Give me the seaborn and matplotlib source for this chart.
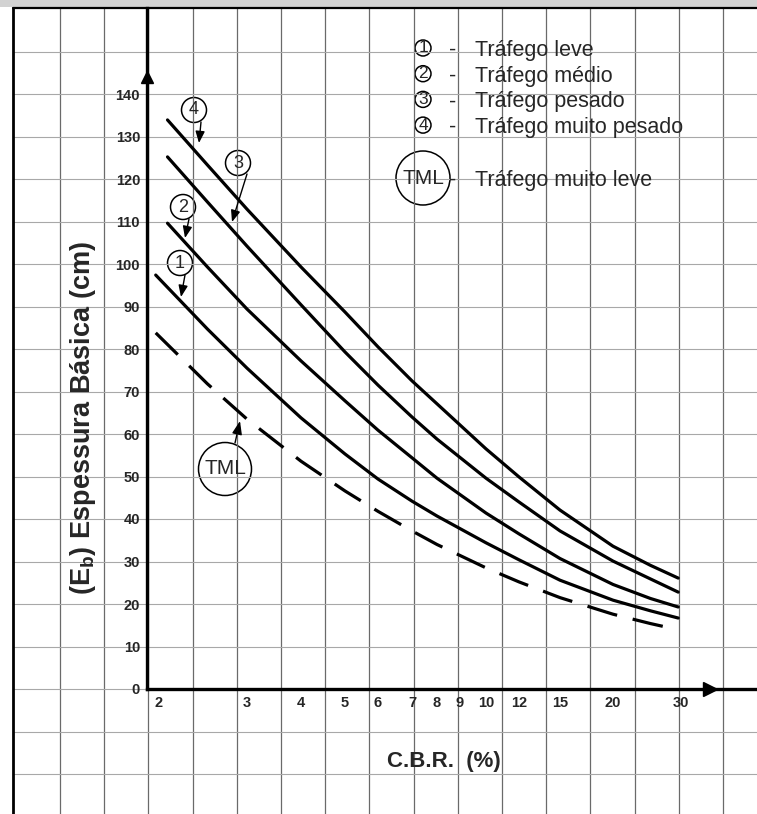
import numpy as np
import pandas as pd
import matplotlib
matplotlib.use("Agg")
import matplotlib.pyplot as plt
import seaborn as sns
from matplotlib import font_manager
from matplotlib.patches import Circle, Rectangle

cbr_leve = [1.97, 2.5, 3, 4, 5, 6, 7, 8, 10, 12, 15, 20, 25, 29.5]
eb_leve = [97.4, 84.7, 75.5, 63.8, 55.3, 49.4, 44.2, 40.7, 34.4, 30.4, 25.6, 20.9, 18.4, 16.7]

cbr_medio = [2.08, 2.5, 3, 4, 5, 6, 7, 8, 10, 12, 15, 20, 25, 29.5]
eb_medio = [109.6, 99.3, 89.4, 77.2, 67.8, 60.9, 54.4, 49.6, 41.4, 36.5, 30.7, 24.6, 21.3, 19.3]

cbr_pesado = [2.08, 2.5, 3, 4, 5, 6, 7, 8, 10, 12, 15, 20, 25, 29.5]
eb_pesado = [125.2, 114.6, 104.2, 90.4, 79.3, 71.5, 64.0, 58.8, 49.6, 44.0, 37.2, 30.1, 25.9, 22.8]

cbr_muito_pesado = [2.08, 2.5, 3, 4, 5, 6, 7, 8, 10, 12, 15, 20, 25, 29.5]
eb_muito_pesado = [133.9, 123.3, 112.9, 99.3, 88.7, 80.5, 72.5, 67.1, 56.5, 49.9, 42.1, 33.6, 29.1, 26.1]

cbr_tml = [1.97, 2.5, 3, 4, 5, 6, 7, 8, 10, 12, 15, 20, 25, 28]
eb_tml = [83.8, 71.8, 63.5, 53.6, 46.6, 41.8, 37.2, 34.0, 28.5, 25.2, 21.5, 17.6, 15.4, 14.4]

cbr_ticks = [2, 3, 4, 5, 6, 7, 8, 9, 10, 12, 15, 20, 30]
eb_ticks = list(range(0, 141, 10))

legenda = [
    ("1", "Tráfego leve"),
    ("2", "Tráfego médio"),
    ("3", "Tráfego pesado"),
    ("4", "Tráfego muito pesado"),
]

# o eixo do ábaco original não é log puro: posição (px) de cada marca no papel
escala_px = [159, 247, 301, 345, 378, 412, 437, 460, 486, 519, 560, 613, 681]

W, H = 757, 814
X0, Y0, YTOP = 147, 689, 8      # cantos do quadro dos eixos (px)
PX_POR_10 = 42.5

_lu = np.log10(cbr_ticks)
_px = np.asarray(escala_px, float)
_s0 = (_px[1] - _px[0]) / (_lu[1] - _lu[0])
_s1 = (_px[-1] - _px[-2]) / (_lu[-1] - _lu[-2])


def escala_fwd(x):
    u = np.log10(np.maximum(np.asarray(x, float), 1e-3))
    out = np.interp(u, _lu, _px)
    out = np.where(u < _lu[0], _px[0] + (u - _lu[0]) * _s0, out)
    out = np.where(u > _lu[-1], _px[-1] + (u - _lu[-1]) * _s1, out)
    return out


def escala_inv(p):
    p = np.asarray(p, float)
    u = np.interp(p, _px, _lu)
    u = np.where(p < _px[0], _lu[0] + (p - _px[0]) / _s0, u)
    u = np.where(p > _px[-1], _lu[-1] + (p - _px[-1]) / _s1, u)
    return 10 ** u


sns.set_style("white")
nomes = {f.name for f in font_manager.fontManager.ttflist}
fonte = "Liberation Sans" if "Liberation Sans" in nomes else "DejaVu Sans"
plt.rcParams["font.family"] = [fonte, "DejaVu Sans"]
plt.rcParams["mathtext.fontset"] = "custom"
plt.rcParams["mathtext.rm"] = fonte
plt.rcParams["mathtext.bf"] = fonte + ":bold"

fig = plt.figure(figsize=(W / 100, H / 100), dpi=100)

# papel quadriculado (coordenadas em px)
bg = fig.add_axes([0, 0, 1, 1], zorder=0)
bg.set_xlim(0, W)
bg.set_ylim(H, 0)
bg.axis("off")
bg.add_patch(Rectangle((0, 0), W, 7, color="#d2d2d2", lw=0))
for gx in 60 + 44.2 * np.arange(0, 16):
    bg.plot([gx, gx], [8, H], color="#6a6a6a", lw=0.9)
for k in range(-2, 16):
    gy = Y0 - PX_POR_10 * k
    bg.plot([13, W], [gy, gy], color="#a8a8a8", lw=0.8)
bg.plot([13, 13], [8, H], color="black", lw=2.0)
bg.plot([13, W], [8, 8], color="black", lw=1.6)

# curvas
ax = fig.add_axes([X0 / W, (H - Y0) / H, (W - X0) / W, (Y0 - YTOP) / H], zorder=1)
ax.patch.set_alpha(0)

series = {
    "1": (cbr_leve, eb_leve),
    "2": (cbr_medio, eb_medio),
    "3": (cbr_pesado, eb_pesado),
    "4": (cbr_muito_pesado, eb_muito_pesado),
    "TML": (cbr_tml, eb_tml),
}
df = pd.concat(
    [pd.DataFrame({"cbr": x, "eb": y, "curva": k}) for k, (x, y) in series.items()],
    ignore_index=True,
)

sns.lineplot(
    data=df, x="cbr", y="eb", hue="curva", style="curva",
    palette={k: "black" for k in series},
    dashes={"1": "", "2": "", "3": "", "4": "", "TML": (9.7, 5.0)},
    lw=2.3, estimator=None, legend=False, ax=ax,
)

ax.set_xscale("function", functions=(escala_fwd, escala_inv))
ax.set_xlim(float(escala_inv(X0)), float(escala_inv(W)))
ax.set_ylim(0, (Y0 - YTOP) / PX_POR_10 * 10)

ax.set_xticks(cbr_ticks)
ax.set_xticklabels([str(v) for v in cbr_ticks])
ax.set_yticks(eb_ticks)
ax.set_yticklabels([str(v) for v in eb_ticks])
ax.minorticks_off()
ax.tick_params(axis="x", direction="out", length=4.5, width=1.4, pad=0.5,
               labelsize=10.5, color="black")
ax.tick_params(axis="y", length=0, pad=5, labelsize=10.5)
for lab in ax.get_xticklabels() + ax.get_yticklabels():
    lab.set_fontweight("bold")

sns.despine(ax=ax, top=True, right=True)
for s in ("left", "bottom"):
    ax.spines[s].set_linewidth(2.4)
    ax.spines[s].set_color("black")
ax.grid(False)

# setas dos eixos
ax.plot(0.923, 0, transform=ax.transAxes, marker=">", ms=10, color="black", clip_on=False)
ax.plot(0, 0.8987, transform=ax.transAxes, marker="^", ms=9, color="black", clip_on=False)

ax.set_xlabel("C.B.R.  (%)", fontsize=16, fontweight="bold", va="center")
ax.xaxis.set_label_coords((444 - X0) / (W - X0), -(761 - Y0) / (Y0 - YTOP))
ax.set_ylabel(r"(E$_\mathbf{b}$) Espessura Básica (cm)", fontsize=19.5,
              fontweight="bold", va="center")
ax.yaxis.set_label_coords((83 - X0) / (W - X0), (Y0 - 418) / (Y0 - YTOP))

# rótulos circulados com setas apontando para as curvas
chamadas = [
    ("4", (194, 110), (201, 122), (199, 143)),
    ("3", (238, 163), (247, 174), (232, 222)),
    ("2", (183, 207), (189, 219), (185, 238)),
    ("1", (180, 263), (185, 275), (181, 297)),
]
for txt, c, a, b in chamadas:
    bg.add_patch(Circle(c, 12.5, fill=False, ec="black", lw=1.1))
    bg.text(c[0], c[1], txt, ha="center", va="center", fontsize=13)
    bg.annotate("", xy=b, xytext=a,
                arrowprops=dict(arrowstyle="-|>,head_length=0.7,head_width=0.28",
                                color="black", lw=1.0, shrinkA=0, shrinkB=0))

bg.add_patch(Circle((225, 469), 26.5, fill=False, ec="black", lw=1.1))
bg.text(225, 469, "TML", ha="center", va="center", fontsize=15)
bg.annotate("", xy=(240, 421), xytext=(235, 443),
            arrowprops=dict(arrowstyle="-|>,head_length=0.8,head_width=0.3",
                            color="black", lw=1.0, shrinkA=0, shrinkB=0))

# legenda
for i, (num, nome) in enumerate(legenda):
    ly = 48 + 25.7 * i
    bg.add_patch(Circle((423, ly), 8, fill=False, ec="black", lw=1.1))
    bg.text(423, ly, num, ha="center", va="center", fontsize=12.5)
    bg.text(453, ly, "-", ha="center", va="center_baseline", fontsize=15.5)
    bg.text(475, ly, nome, ha="left", va="center_baseline", fontsize=15.5)

bg.add_patch(Circle((423, 178), 27, fill=False, ec="black", lw=1.1))
bg.text(423, 178, "TML", ha="center", va="center", fontsize=15)
bg.text(453, 178, "-", ha="center", va="center_baseline", fontsize=15.5)
bg.text(475, 178, "Tráfego muito leve", ha="left", va="center_baseline", fontsize=15.5)

fig.savefig("out.png", dpi=100)
